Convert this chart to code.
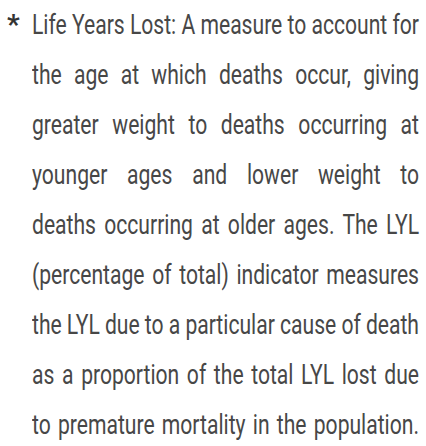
<!DOCTYPE html>
<html>
<head>
<meta charset="utf-8">
<script src="https://cdn.jsdelivr.net/npm/chart.js@4/dist/chart.umd.min.js"></script>
<style>
  html, body { margin: 0; padding: 0; background: #fff; }
  body { width: 426px; height: 446px; overflow: hidden; position: relative; font-family: Roboto, "Noto Sans", sans-serif; }
  #note { position: absolute; left: 32px; top: 0; width: 387px; color: #474747; }
  .star { position: absolute; left: -25px; top: 0; font-size: 28px; line-height: 50px; font-weight: 700; color: #333; }
  .line { font-size: 28px; font-weight: 400; line-height: 50px; height: 50px; white-space: nowrap; transform-origin: 0 0;
          text-align: justify; text-align-last: justify; }
  #chart { display: none; }
</style>
</head>
<body>
<div id="note"><span class="star">*</span></div>
<canvas id="chart"></canvas>
<script>
// ================= DATA =================
const noteLines = [
  "Life Years Lost: A measure to account for",
  "the age at which deaths occur, giving",
  "greater weight to deaths occurring at",
  "younger ages and lower weight to",
  "deaths occurring at older ages. The LYL",
  "(percentage of total) indicator measures",
  "the LYL due to a particular cause of death",
  "as a proportion of the total LYL lost due",
  "to premature mortality in the population."
];

// ================= LAYOUT =================
const note = document.getElementById("note");
const boxWidth = 387;

function naturalWidth(t) {
  const probe = document.createElement("span");
  probe.className = "line";
  probe.style.display = "inline-block";
  probe.style.textAlignLast = "auto";
  probe.textContent = t;
  document.body.appendChild(probe);
  const w = probe.getBoundingClientRect().width;
  probe.remove();
  return w;
}

// first and last lines sit at their natural spacing in the note
const refWidth = Math.max(naturalWidth(noteLines[0]), naturalWidth(noteLines[noteLines.length - 1]));
const squeeze = boxWidth / refWidth;
const inner = boxWidth / squeeze;

noteLines.forEach(t => {
  const div = document.createElement("div");
  div.className = "line";
  div.style.width = inner + "px";
  div.style.transform = "scaleX(" + squeeze + ")";
  const w = naturalWidth(t);
  if (w > inner) {
    const gaps = t.split(" ").length - 1;
    div.style.wordSpacing = ((inner - w) / gaps) + "px";
  }
  div.textContent = t;
  note.appendChild(div);
});
</script>
</body>
</html>
